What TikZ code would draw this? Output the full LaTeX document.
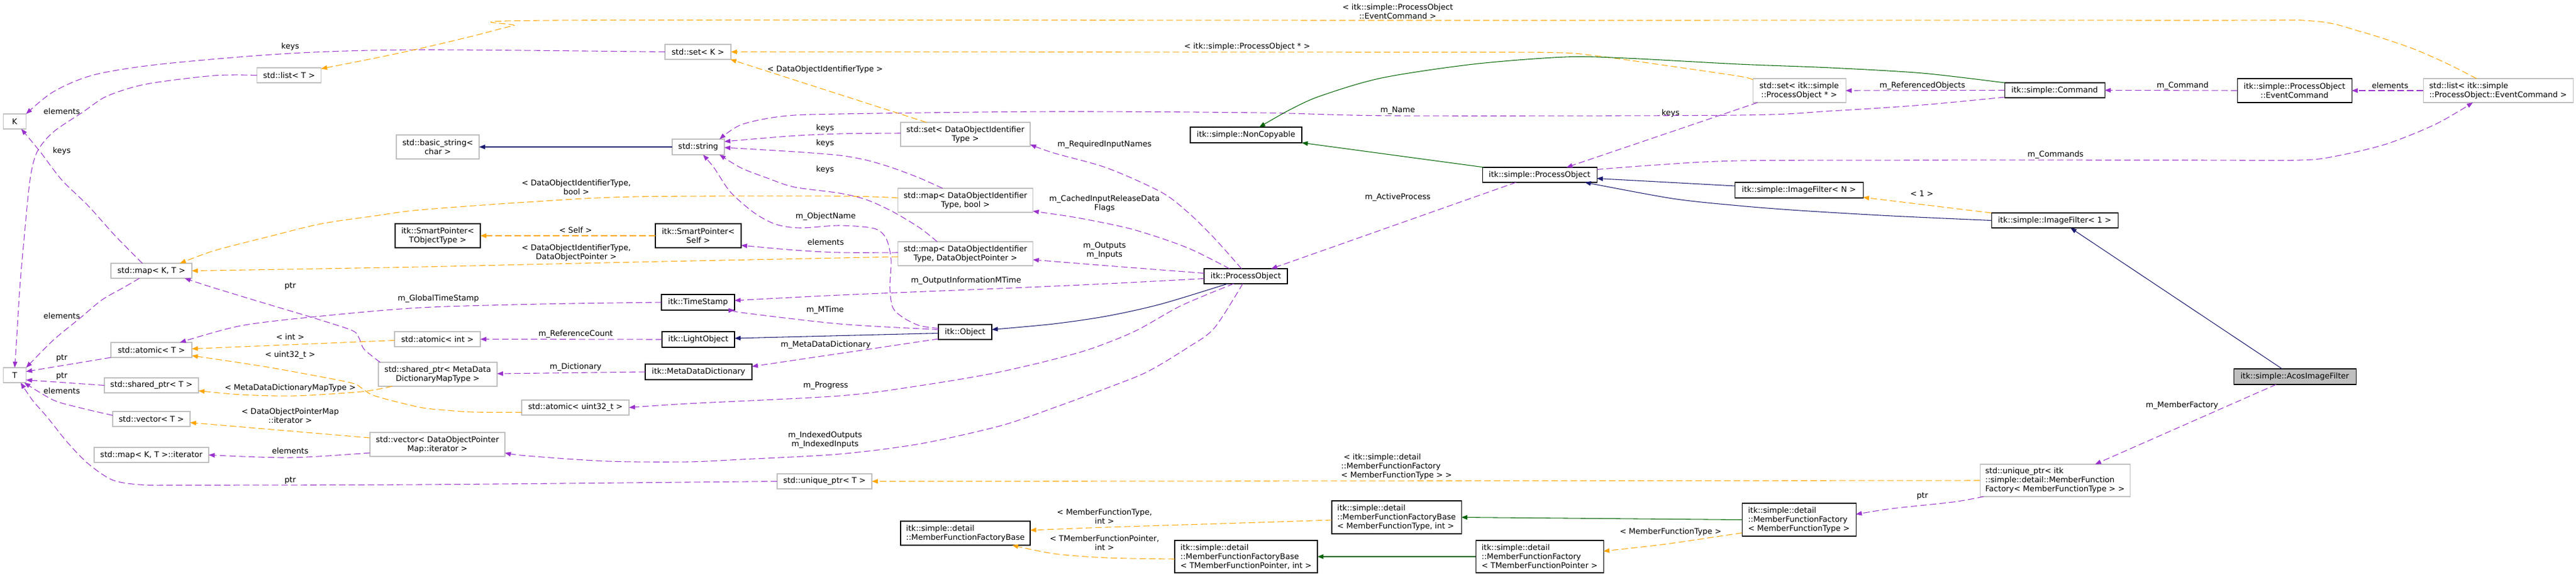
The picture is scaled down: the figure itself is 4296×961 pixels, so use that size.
\documentclass[tikz,border=0pt]{standalone}
\usepackage{fontspec}
\setmainfont{DejaVu Sans}
\usetikzlibrary{arrows.meta,calc}
\definecolor{cpurple}{HTML}{9A32CD}
\definecolor{corange}{HTML}{FFA500}
\definecolor{cnavy}{HTML}{191970}
\definecolor{cgreen}{HTML}{006400}
\definecolor{cgrayb}{HTML}{BFBFBF}
\tikzset{
  every node/.style={font=\fontsize{9.8}{11.2}\selectfont, inner sep=0pt, outer sep=0pt},
  wh/.style 2 args={minimum width=#1*0.75pt, minimum height=#2*0.75pt},
  cls/.style={draw=black, line width=0.8pt, fill=white},
  ext/.style={draw=cgrayb, line width=0.8pt, fill=white},
  cur/.style={draw=black, line width=0.8pt, fill=cgrayb},
  lbl/.style={align=center},
  lbll/.style={align=left},
  pe/.style={draw=cpurple, line width=0.8pt, dash pattern=on 8pt off 4pt, -{Triangle[length=7.5pt,width=5.6pt]}},
  oe/.style={draw=corange, line width=0.8pt, dash pattern=on 8pt off 4pt, -{Triangle[length=7.5pt,width=5.6pt]}},
  ne/.style={draw=cnavy, line width=0.8pt, -{Triangle[length=7.5pt,width=5.6pt]}},
  ge/.style={draw=cgreen, line width=0.8pt, -{Triangle[length=7.5pt,width=5.6pt]}}
}
\begin{document}
\begin{tikzpicture}[x=0.75pt, y=-0.75pt]
\useasboundingbox (0,0) rectangle (4296,961);
% ---------- nodes ----------
\node[ext, wh={38}{25}] (K) at (24.5,202.5) {K};
\node[ext, wh={38}{25}] (T) at (24.5,625.5) {T};
\node[ext, wh={107}{25}] (listT) at (482,125.5) {std::list< T >};
\node[ext, wh={135}{25}] (mapKT) at (252.5,451.5) {std::map< K, T >};
\node[ext, wh={135}{25}] (atomicT) at (252.5,583.5) {std::atomic< T >};
\node[ext, wh={157}{25}] (sharedT) at (252.5,642.5) {std::shared\_ptr< T >};
\node[ext, wh={129}{25}] (vectorT) at (252.5,698.5) {std::vector< T >};
\node[ext, wh={191}{25}] (mapiter) at (252.5,758.5) {std::map< K, T >::iterator};
\node[ext, wh={138}{40}, align=center] (basicstr) at (730,245) {std::basic\_string<\\char >};
\node[cls, wh={142}{40}, align=center] (spTO) at (730,393) {itk::SmartPointer<\\TObjectType >};
\node[ext, wh={143}{25}] (atomicint) at (729.5,565.5) {std::atomic< int >};
\node[ext, wh={198}{40}, align=center] (sharedMD) at (730,624) {std::shared\_ptr< MetaData\\DictionaryMapType >};
\node[ext, wh={225}{40}, align=center] (vectorDOPM) at (729.5,741) {std::vector< DataObjectPointer\\Map::iterator >};
\node[ext, wh={110}{25}] (setK) at (1164,86.5) {std::set< K >};
\node[ext, wh={87}{26}] (string) at (1164.5,245) {std::string};
\node[cls, wh={143}{40}, align=center] (spSelf) at (1164.5,393) {itk::SmartPointer<\\Self >};
\node[cls, wh={122}{26}] (timestamp) at (1164,504) {itk::TimeStamp};
\node[cls, wh={121}{26}] (lightobj) at (1164.5,566) {itk::LightObject};
\node[cls, wh={178}{26}] (mdd) at (1165,620) {itk::MetaDataDictionary};
\node[ext, wh={179}{25}] (atomicu32) at (959.5,679.5) {std::atomic< uint32\_t >};
\node[ext, wh={158}{25}] (uniqueT) at (1375,802.5) {std::unique\_ptr< T >};
\node[ext, wh={216}{40}, align=center] (setDOIT) at (1610,224) {std::set< DataObjectIdentifier\\Type >};
\node[ext, wh={225}{40}, align=center] (mapDOITb) at (1610,334) {std::map< DataObjectIdentifier\\Type, bool >};
\node[ext, wh={225}{40}, align=center] (mapDOITp) at (1610,423) {std::map< DataObjectIdentifier\\Type, DataObjectPointer >};
\node[cls, wh={89}{25}] (object) at (1609.5,553.5) {itk::Object};
\node[cls, wh={216}{40}, align=left] (mffbase) at (1610,889) {itk::simple::detail\\::MemberFunctionFactoryBase};
\node[cls, wh={186}{26}] (noncopy) at (2078,225) {itk::simple::NonCopyable};
\node[cls, wh={139}{25}] (itkPO) at (2077.5,460.5) {itk::ProcessObject};
\node[cls, wh={238}{54}, align=left] (mffbT) at (2078,928) {itk::simple::detail\\::MemberFunctionFactoryBase\\< TMemberFunctionPointer, int >};
\node[cls, wh={191}{25}] (sPO) at (2567.5,291.5) {itk::simple::ProcessObject};
\node[cls, wh={216}{55}, align=left] (mffbM) at (2329,862.5) {itk::simple::detail\\::MemberFunctionFactoryBase\\< MemberFunctionType, int >};
\node[cls, wh={213}{54}, align=left] (mffT) at (2567.5,928) {itk::simple::detail\\::MemberFunctionFactory\\< TMemberFunctionPointer >};
\node[ext, wh={155}{40}, align=center] (setPO) at (3000.5,151) {std::set< itk::simple\\::ProcessObject * >};
\node[cls, wh={167}{25}] (command) at (3426.5,150.5) {itk::simple::Command};
\node[cls, wh={214}{26}] (ifN) at (3000,317) {itk::simple::ImageFilter< N >};
\node[cls, wh={211}{25}] (if1) at (3426.5,367.5) {itk::simple::ImageFilter< 1 >};
\node[ext, wh={250}{54}, align=left] (uniqueM) at (3427,801) {std::unique\_ptr< itk\\::simple::detail::MemberFunction\\Factory< MemberFunctionType > >};
\node[cls, wh={190}{55}, align=left] (mffM) at (3000,866.5) {itk::simple::detail\\::MemberFunctionFactory\\< MemberFunctionType >};
\node[cls, wh={191}{40}, align=center] (eventcmd) at (3826.5,151) {itk::simple::ProcessObject\\::EventCommand};
\node[ext, wh={250}{40}, align=left] (listEC) at (4166,151) {std::list< itk::simple\\::ProcessObject::EventCommand >};
\node[cur, wh={204}{26}] (acos) at (3827,628) {itk::simple::AcosImageFilter};
% ---------- labels ----------
\node[lbl] (l1) at (484,78) {keys};
\node[lbl] (l2) at (103,186) {elements};
\node[lbl] (l3) at (103,252) {keys};
\node[lbl] (l4) at (484,477) {ptr};
\node[lbl] (l5) at (103,527) {elements};
\node[lbl] (l6) at (103,597) {ptr};
\node[lbl] (l7) at (103,627) {ptr};
\node[lbl] (l8) at (103,652) {elements};
\node[lbl] (l9) at (484,562) {< int >};
\node[lbl] (l10) at (484,592) {< uint32\_t >};
\node[lbl] (l11) at (484,647) {< MetaDataDictionaryMapType >};
\node[lbl] (l12) at (484,693.5) {< DataObjectPointerMap\\::iterator >};
\node[lbl] (l13) at (484,752) {elements};
\node[lbl] (l14) at (484,801) {ptr};
\node[lbl] (l15) at (731,498) {m\_GlobalTimeStamp};
\node[lbl] (l16) at (1376,116) {< DataObjectIdentifierType >};
\node[lbl] (l17) at (1376,214) {keys};
\node[lbl] (l18) at (1376,239) {keys};
\node[lbl] (l19) at (1376,283) {keys};
\node[lbl] (l20) at (961,312) {< DataObjectIdentifierType,\\bool >};
\node[lbl] (l21) at (960,384) {< Self >};
\node[lbl] (l22) at (961,421) {< DataObjectIdentifierType,\\DataObjectPointer >};
\node[lbl] (l23) at (1377,361) {m\_ObjectName};
\node[lbl] (l24) at (1377,404) {elements};
\node[lbl] (l25) at (1376,517) {m\_MTime};
\node[lbl] (l26) at (960,557) {m\_ReferenceCount};
\node[lbl] (l27) at (1377,575) {m\_MetaDataDictionary};
\node[lbl] (l28) at (960,612) {m\_Dictionary};
\node[lbl] (l29) at (1377,643) {m\_Progress};
\node[lbl] (l30) at (1376,734) {m\_IndexedOutputs\\m\_IndexedInputs};
\node[lbl] (l31) at (1842,241) {m\_RequiredInputNames};
\node[lbl] (l32) at (1842,339) {m\_CachedInputReleaseData\\Flags};
\node[lbl] (l33) at (1842,418) {m\_Outputs\\m\_Inputs};
\node[lbl] (l34) at (1611,468) {m\_OutputInformationMTime};
\node[lbl] (l35) at (2080,78) {< itk::simple::ProcessObject * >};
\node[lbl] (l36) at (1842,861) {< MemberFunctionType,\\int >};
\node[lbl] (l37) at (1842,905) {< TMemberFunctionPointer,\\int >};
\node[lbl] (l38) at (2331,19) {< itk::simple::ProcessObject\\::EventCommand >};
\node[lbl] (l39) at (2331,184) {m\_Name};
\node[lbl] (l40) at (2786,189) {keys};
\node[lbl] (l41) at (2331,329) {m\_ActiveProcess};
\node[lbll] (l42) at (2329,778) {\ < itk::simple::detail\\::MemberFunctionFactory\\< MemberFunctionType > >};
\node[lbl] (l43) at (2786,887) {< MemberFunctionType >};
\node[lbl] (l44) at (3206,143) {m\_ReferencedObjects};
\node[lbl] (l45) at (3640,143) {m\_Command};
\node[lbl] (l46) at (3428,258) {m\_Commands};
\node[lbl] (l47) at (3205,323) {< 1 >};
\node[lbl] (l48) at (3639,676) {m\_MemberFactory};
\node[lbl] (l49) at (3206,827) {ptr};
\node[lbl] (l50) at (3986,143) {elements};
% ---------- edges ----------
\draw[pe] plot[smooth] coordinates {(setK.west) (700,83) (484,89) (268,107) (156,125) (89,153) (K.north east)};
\draw[pe] plot[smooth] coordinates {(listT.west) (357,126) (245,140) (179,160) (138,187) (89,220) (62,253) (50,300) (40,400) (33,480) (28,560) (T.north)};
\draw[pe] plot[smooth] coordinates {($(mapKT.north)+(-15,0)$) (192,393) (147,343) (103,300) (67,253) ($(K.south east)+(-8,0)$)};
\draw[pe] plot[smooth] coordinates {($(mapKT.south)+(-20,0)$) (205,480) (170,500) (134,530) (89,567) (T.north east)};
\draw[pe] (atomicT.south west) -- ($(T.east)+(0,-6)$);
\draw[pe] (sharedT.west) -- ($(T.east)+(0,8)$);
\draw[pe] plot[smooth] coordinates {($(vectorT.west)+(0,-6)$) (134,680) (89,667) ($(T.south east)+(-3,0)$)};
\draw[pe] plot[smooth] coordinates {(uniqueT.west) (700,808) (300,809) (232,808) (187,800) (147,773) (112,737) (80,697) (54,667) ($(T.south)+(10,0)$)};
\draw[pe] plot[smooth] coordinates {($(vectorDOPM.west)+(0,14)$) (484,763) (mapiter.east)};
\draw[pe] plot[smooth] coordinates {(timestamp.west) (900,507) (700,513) (536,527) (402,543) ($(atomicT.north east)+(-20,0)$)};
\draw[pe] (lightobj.west) -- (atomicint.east);
\draw[pe] (mdd.west) -- ($(sharedMD.east)+(0,-1)$);
\draw[pe] plot[smooth] coordinates {($(sharedMD.north west)+(3,0)$) (607,582) (598,562) (585,550) (513,527) (446,507) (357,480) ($(mapKT.south east)+(-12,0)$)};
\draw[pe] plot[smooth] coordinates {($(itkPO.west)+(0,4)$) (1846,473) (1690,480) (1400,492) ($(timestamp.east)+(0,-3)$)};
\draw[pe] plot[smooth] coordinates {($(object.west)+(0,-4)$) (1400,540) (1236,521) (timestamp.south east)};
\draw[pe] ($(object.south west)+(0,-1)$) -- ($(mdd.east)+(0,-9)$);
\draw[pe] plot[smooth] coordinates {($(itkPO.south)+(-20,0)$) (1969,510) (1891,553) (1802,587) (1668,620) (1534,643) (1400,660) (1146,673) (atomicu32.east)};
\draw[pe] plot[smooth] coordinates {($(itkPO.south)+(-5,0)$) (2025,547) (1980,580) (1913,620) (1846,647) (1757,680) (1668,710) (1534,740) (1400,757) (1236,766) (1146,770) (1013,769) (879,760) ($(vectorDOPM.east)+(0,14)$)};
\draw[pe] plot[smooth] coordinates {($(object.west)+(0,-6)$) (1534,543) (1507,530) (1489,513) (1484,480) (1486,433) (1478,398) (1458,381) (1400,376) (1334,380) (1294,374) (1258,355) (1218,320) (1191,280) ($(string.south)+(8,0)$)};
\draw[pe] plot[smooth] coordinates {($(setDOIT.west)+(0,-2)$) (1400,223) (1316,227) ($(string.east)+(0,-9)$)};
\draw[pe] plot[smooth] coordinates {($(mapDOITb.north)+(-38,0)$) (1534,297) (1489,280) (1445,267) (1400,259) (1325,253) ($(string.east)+(0,1)$)};
\draw[pe] plot[smooth] coordinates {($(mapDOITp.north)+(-47,0)$) (1534,380) (1489,353) (1445,333) (1400,322) (1325,312) (1280,297) (1236,280) ($(string.south east)+(-8,0)$)};
\draw[pe] plot[smooth] coordinates {($(command.south west)+(0,-1)$) (3206,175) (3053,185) (2900,192) (2331,193) (2100,188) (1757,186) (1400,190) (1303,194) (1236,208) ($(string.north east)+(-8,0)$)};
\draw[oe] ($(setDOIT.north)+(-65,0)$) -- ($(setK.south east)+(-1,0)$);
\draw[oe] plot[smooth] coordinates {($(setPO.north west)+(0,2)$) (2900,127) (2763,107) (2661,93) (2585,87.5) (2300,87) (setK.east)};
\draw[oe] plot[smooth] coordinates {($(listEC.north)+(-36,0)$) (4083,107) (4021,80) (3938,53) (3856,35) (3650,34) (2300,34) (923,34) (856,43) (789,60) (700,81) (625,97) ($(listT.east)+(0,-11)$)};
\draw[oe] plot[smooth] coordinates {($(mapDOITb.west)+(0,-4)$) (1400,327) (1057,328) (879,337) (700,350) (625,360) (536,373) (446,395) (357,418) ($(mapKT.north east)+(-20,0)$)};
\draw[oe] plot[smooth] coordinates {($(mapDOITp.west)+(0,5)$) (1400,430) (1057,437) (700,445) (446,449.5) (mapKT.east)};
\draw[oe] (spSelf.west) -- (spTO.east);
\draw[pe] plot[smooth] coordinates {($(mapDOITp.west)+(0,-2)$) (1400,421) (1325,417) ($(spSelf.east)+(0,16)$)};
\draw[oe] ($(atomicint.west)+(0,2)$) -- ($(atomicT.east)+(0,-2)$);
\draw[oe] plot[smooth] coordinates {($(atomicu32.west)+(0,8)$) (789,687) (745,684) (700,679) (625,660) (603,647) (580,637) (446,612) ($(atomicT.south east)+(0,-3)$)};
\draw[oe] plot[smooth] coordinates {($(sharedMD.south west)+(23,0)$) (603,653) (491,660) (402,658) ($(sharedT.east)+(0,9)$)};
\draw[oe] ($(vectorDOPM.west)+(0,-11)$) -- ($(vectorT.east)+(0,6)$);
\draw[oe] (uniqueM.west) -- (uniqueT.east);
\draw[oe] plot[smooth] coordinates {($(mffbM.west)+(0,4.5)$) (2100,871) (1846,879) ($(mffbase.east)+(0,-5)$)};
\draw[oe] plot[smooth] coordinates {($(mffbT.west)+(0,4)$) (1846,930) (1757,923) ($(mffbase.south east)+(-30,0)$)};
\draw[ge] (mffM.west) -- (mffbM.east);
\draw[ge] (mffT.west) -- (mffbT.east);
\draw[oe] plot[smooth] coordinates {($(mffM.west)+(0,22)$) (2814,902) (2763,909) ($(mffT.east)+(0,-9)$)};
\draw[pe] plot[smooth] coordinates {($(uniqueM.south west)+(6,0)$) (3257,837) (3155,848) ($(mffM.east)+(0,-9)$)};
\draw[pe] ($(acos.south)+(-31,0)$) -- ($(uniqueM.north)+(67,0)$);
\draw[ne] ($(acos.north)+(-21,0)$) -- ($(if1.south)+(26.5,0)$);
\draw[oe] (if1.north west) -- ($(ifN.south east)+(0,-1)$);
\draw[ne] ($(ifN.west)+(0,-7)$) -- ($(sPO.east)+(0,6)$);
\draw[ne] plot[smooth] coordinates {(if1.west) (3155,360) (3002,351) (2900,343) (2789,331) ($(sPO.south east)+(-20,0)$)};
\draw[ge] ($(sPO.north west)+(3,0)$) -- (noncopy.south east);
\draw[ge] plot[smooth] coordinates {(command.north west) (3206,122) (3053,113) (2900,107) (2712,97) (2610,95) (2457,107) (2304,130) (2202,160) (2151,183) ($(noncopy.north)+(22,0)$)};
\draw[pe] (command.west) -- (setPO.east);
\draw[pe] ($(setPO.south west)+(8,0)$) -- ($(sPO.north)+(45,0)$);
\draw[pe] (eventcmd.west) -- (command.east);
\draw[pe] (listEC.west) -- (eventcmd.east);
\draw[pe] plot[smooth] coordinates {($(sPO.east)+(0,-9)$) (2763,275) (2900,268) (3200,267) (3650,267) (3835,267) (3897,260) (3980,240) (4062,207) ($(listEC.south)+(-42,0)$)};
\draw[pe] ($(sPO.south)+(-39,0)$) -- ($(itkPO.north east)+(-27,0)$);
\draw[ne] plot[smooth] coordinates {($(itkPO.south)+(-30,0)$) (1936,507) (1846,527) (1757,540) ($(object.east)+(0,-4)$)};
\draw[ne] ($(object.west)+(0,2)$) -- ($(lightobj.east)+(0,-2)$);
\draw[ne] (string.west) -- (basicstr.east);
\draw[pe] plot[smooth] coordinates {($(itkPO.north)+(-7,0)$) (2025,397) (1980,353) (1936,320) (1846,280) (1757,255) ($(setDOIT.south east)+(0,-3)$)};
\draw[pe] plot[smooth] coordinates {($(itkPO.north)+(-27,0)$) (1980,413) (1891,383) (1802,364) ($(mapDOITb.south east)+(0,-2)$)};
\draw[pe] plot[smooth] coordinates {($(itkPO.west)+(0,-5)$) (1846,443) ($(mapDOITp.east)+(0,10)$)};
\end{tikzpicture}
\end{document}
